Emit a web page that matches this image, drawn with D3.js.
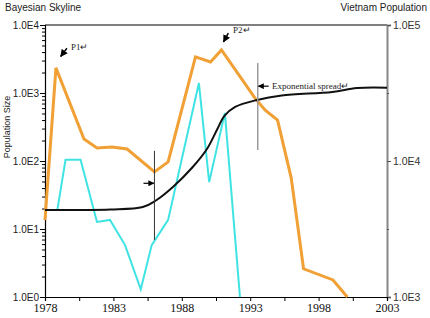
<!DOCTYPE html>
<html>
<head>
<meta charset="utf-8">
<script src="https://cdn.jsdelivr.net/npm/d3@7"></script>
<style>
  body { margin: 0; background: #fff; }
  svg { display: block; }
</style>
</head>
<body>
<script>
// Orange series (left axis)
const orangeYears = [1978, 1978.8, 1980.85, 1981.8, 1982.9, 1984.0, 1986.0, 1987.0, 1989.0, 1990.1, 1990.9, 1993.35, 1994.1, 1995.0, 1996.0, 1996.9, 1999.05, 2000.1]
const orangeValues = [13.5, 2340, 210, 155, 160, 150, 69, 97, 3400, 2860, 4290, 840, 560, 400, 56, 2.6, 1.78, 1.0]

// Cyan series (left axis)
const cyanYears = [1978, 1978.9, 1979.5, 1980.6, 1981.8, 1982.75, 1983.85, 1985.0, 1985.8, 1987.0, 1989.25, 1990.0, 1991.15, 1992.25]
const cyanValues = [19, 19, 104, 104, 12.7, 13.6, 5.8, 1.3, 5.8, 13.6, 1400, 49, 510, 1.0]

// Black series, Vietnam population (right axis)
const blackYears = [1978, 1982.75, 1985.15, 1986.05, 1987.35, 1988.8, 1989.85, 1990.6, 1991.1, 1991.9, 1993.5, 1995.3, 1999.0, 2000.8, 2003]
const blackValues = [4360, 4400, 4590, 5080, 6440, 9030, 12300, 17200, 21400, 25000, 28100, 30300, 32200, 34400, 34600]

// Axis ticks
const xTicks = [1978, 1983, 1988, 1993, 1998, 2003]
const leftTicks = [1, 10, 100, 1000, 10000]
const rightTicks = [1000, 10000, 100000]

const margin = { top: 25, right: 43, bottom: 21, left: 45 }
const width = 430 - margin.left - margin.right
const height = 318 - margin.top - margin.bottom

const svg = d3.select('body')
  .append('svg')
    .attr('width', 430)
    .attr('height', 318)

const g = svg.append('g')
    .attr('transform', `translate(${margin.left}, ${margin.top})`)

// Scales
const x = d3.scaleLinear().domain([1978, 2003]).range([0, width])
const yL = d3.scaleLog().domain([1, 10000]).range([height, 0])
const yR = d3.scaleLog().domain([1000, 100000]).range([height, 0])

const expLabel = d => '1.0E' + Math.round(Math.log10(d))
const sans = '10px "Liberation Sans", Arial, sans-serif'

// Minor tick values
const leftMinor = []
leftTicks.slice(0, -1).forEach(d => { for (let k = 2; k < 10; k++) leftMinor.push(d * k) })
const rightMinor = rightTicks.slice(0, -1).map(d => d * Math.sqrt(10))
const xMinor = xTicks.slice(0, -1).map(d => d + 2.5)

// Top frame line
g.append('line')
    .attr('x1', 0).attr('x2', width)
    .attr('y1', 0).attr('y2', 0)
    .style('stroke', '#000').style('stroke-width', 1.2)

// Right axis (gray)
const right = g.append('g')
    .attr('transform', `translate(${width}, 0)`)
    .call(d3.axisRight(yR).tickValues(rightTicks).tickFormat(expLabel).tickSize(4).tickPadding(2))
right.select('.domain').style('stroke', '#888').style('stroke-width', 2)
right.selectAll('.tick line').style('stroke', '#555')
right.selectAll('text').style('font', '10.5px "Liberation Sans", Arial, sans-serif').style('fill', '#333')
g.append('g')
    .attr('transform', `translate(${width}, 0)`)
    .call(d3.axisRight(yR).tickValues(rightMinor).tickFormat('').tickSize(2))
    .call(a => a.select('.domain').remove())
    .selectAll('.tick line').style('stroke', '#555')

// Left axis
const left = g.append('g')
    .call(d3.axisLeft(yL).tickValues(leftTicks).tickFormat(expLabel).tickSize(5).tickPadding(1))
left.select('.domain').style('stroke', '#000').style('stroke-width', 1.2)
left.selectAll('text').style('font', sans).style('fill', '#222')
g.append('g')
    .call(d3.axisLeft(yL).tickValues(leftMinor).tickFormat('').tickSize(3))
    .call(a => a.select('.domain').remove())

// Bottom axis
const bottom = g.append('g')
    .attr('transform', `translate(0, ${height})`)
    .call(d3.axisBottom(x).tickValues(xTicks).tickFormat(d3.format('d')).tickSize(4).tickPadding(2))
bottom.select('.domain').style('stroke', '#000').style('stroke-width', 1.2)
bottom.selectAll('text').style('font', '12px "Liberation Serif", "Times New Roman", serif').style('fill', '#111')
g.append('g')
    .attr('transform', `translate(0, ${height})`)
    .call(d3.axisBottom(x).tickValues(xMinor).tickFormat('').tickSize(4))
    .call(a => a.select('.domain').remove())

// Titles
svg.append('text')
    .attr('x', 5).attr('y', 11)
    .style('font', sans).style('fill', '#222')
    .text('Bayesian Skyline')
svg.append('text')
    .attr('x', 427).attr('y', 11)
    .style('text-anchor', 'end')
    .style('font', sans).style('fill', '#222')
    .text('Vietnam Population')
svg.append('text')
    .attr('transform', 'translate(10, 127) rotate(-90)')
    .style('text-anchor', 'middle')
    .style('font', '9px "Liberation Sans", Arial, sans-serif').style('fill', '#222')
    .text('Population Size')

// Lines
const lineL = d3.line().x(d => x(d[0])).y(d => yL(d[1]))
const lineR = d3.line().x(d => x(d[0])).y(d => yR(d[1])).curve(d3.curveCatmullRom)

g.append('path')
    .datum(d3.zip(cyanYears, cyanValues))
    .attr('d', lineL)
    .style('fill', 'none').style('stroke', '#3fe3e3').style('stroke-width', 2)

g.append('path')
    .datum(d3.zip(orangeYears, orangeValues))
    .attr('d', lineL)
    .style('fill', 'none').style('stroke', '#f0a035').style('stroke-width', 3)

g.append('path')
    .datum(d3.zip(blackYears, blackValues))
    .attr('d', lineR)
    .style('fill', 'none').style('stroke', '#111').style('stroke-width', 2)

// Annotations
svg.append('defs').append('marker')
    .attr('id', 'ah')
    .attr('viewBox', '0 0 10 10')
    .attr('refX', 9).attr('refY', 5)
    .attr('markerWidth', 5).attr('markerHeight', 5)
    .attr('orient', 'auto')
  .append('path')
    .attr('d', 'M0,0 L10,5 L0,10 z')
    .style('fill', '#000')

const note = 'font-family: "Liberation Serif", "Times New Roman", serif; font-size: 9px; fill: #222'

// Vertical marker at 1986
g.append('line')
    .attr('x1', x(1986)).attr('x2', x(1986))
    .attr('y1', yL(141)).attr('y2', yL(6.9))
    .style('stroke', '#333').style('stroke-width', 1)
g.append('line')
    .attr('x1', x(1985.2)).attr('x2', x(1985.95))
    .attr('y1', yL(47)).attr('y2', yL(47))
    .style('stroke', '#000').style('stroke-width', 1.2)
    .attr('marker-end', 'url(#ah)')

// Exponential spread marker
g.append('line')
    .attr('x1', x(1993.55)).attr('x2', x(1993.55))
    .attr('y1', yL(2760)).attr('y2', yL(145))
    .style('stroke', '#999').style('stroke-width', 1.5)
g.append('line')
    .attr('x1', x(1994.35)).attr('x2', x(1993.6))
    .attr('y1', yL(1260)).attr('y2', yL(1260))
    .style('stroke', '#000').style('stroke-width', 1.2)
    .attr('marker-end', 'url(#ah)')
g.append('text')
    .attr('x', x(1994.6)).attr('y', yL(1260)).attr('dy', '0.32em')
    .attr('style', note)
    .text('Exponential spread↵')

// P1 and P2
g.append('line')
    .attr('x1', x(1979.6)).attr('x2', x(1979.15))
    .attr('y1', yL(4560)).attr('y2', yL(3440))
    .style('stroke', '#000').style('stroke-width', 1.5)
    .attr('marker-end', 'url(#ah)')
g.append('text')
    .attr('x', x(1979.9)).attr('y', yL(4800)).attr('dy', '0.32em')
    .attr('style', note)
    .text('P1↵')
g.append('line')
    .attr('x1', x(1991.4)).attr('x2', x(1991.05))
    .attr('y1', yL(7600)).attr('y2', yL(5650))
    .style('stroke', '#000').style('stroke-width', 1.5)
    .attr('marker-end', 'url(#ah)')
g.append('text')
    .attr('x', x(1991.75)).attr('y', yL(8300)).attr('dy', '0.32em')
    .attr('style', note)
    .text('P2↵')
</script>
</body>
</html>
